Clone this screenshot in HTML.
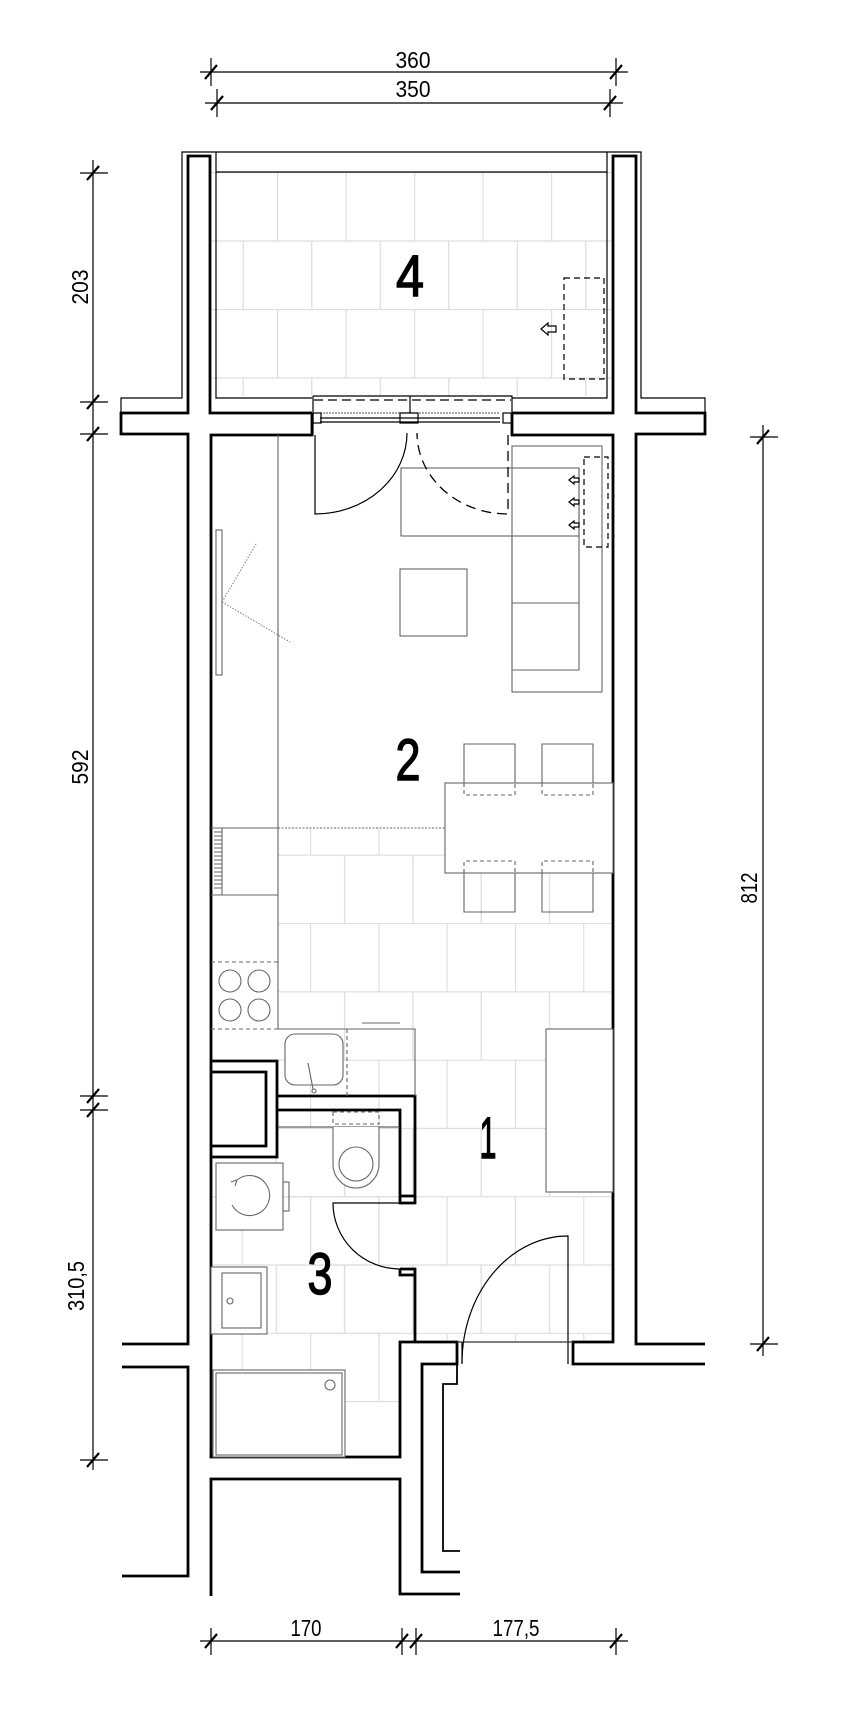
<!DOCTYPE html>
<html><head><meta charset="utf-8">
<style>
html,body{margin:0;padding:0;background:#fff;}
svg{display:block;}
text{font-family:"Liberation Sans",sans-serif;fill:#000;}
</style></head>
<body>
<svg width="868" height="1724" viewBox="0 0 868 1724" xmlns="http://www.w3.org/2000/svg">
<defs>
<pattern id="tileA" patternUnits="userSpaceOnUse" x="310" y="923" width="68.3" height="136.6">
<path d="M0,0.5H68.3M0,68.8H68.3M0.5,0V68.3M34.6,68.3V136.6" stroke="#dedede" stroke-width="1.3" fill="none"/>
</pattern>
<pattern id="tileB" patternUnits="userSpaceOnUse" x="277" y="172" width="68.5" height="137">
<path d="M0,0.5H68.5M0,69H68.5M0.5,0V68.5M34.75,68.5V137" stroke="#dedede" stroke-width="1.3" fill="none"/>
</pattern>
</defs>

<rect x="211" y="172" width="401" height="224" fill="url(#tileB)"/>
<rect x="278" y="828" width="335" height="514" fill="url(#tileA)"/>
<rect x="211" y="1157" width="189" height="300" fill="url(#tileA)"/>

<g fill="none" stroke="#000">
<g stroke-width="1.2">
<path d="M200,72H628M211,58V86M616,58V86"/>
<path d="M205,103H623M217,89V117M610,89V117"/>
<path d="M93,160V1470M80,173H108M80,402H108M80,434H108M80,1096H108M80,1110H108M80,1460H108"/>
<path d="M763,425V1356M750,437H778M750,1344H778"/>
<path d="M200,1641H628M211,1628V1655M402,1628V1655M416,1628V1655M616,1628V1655"/>
</g>
<g stroke-width="2.2">
<path d="M205,79L217,65M610,79L622,65"/>
<path d="M211,110L223,96M604,110L616,96"/>
<path d="M87,180L99,166M87,409L99,395M87,441L99,427M87,1103L99,1089M87,1117L99,1103M87,1467L99,1453"/>
<path d="M757,444L769,430M757,1351L769,1337"/>
<path d="M205,1648L217,1634M396,1648L408,1634M410,1648L422,1634M610,1648L622,1634"/>
</g>

<g stroke-width="1.2">
<path d="M121,413V398H182V152H641V398H705V413"/>
<path d="M216,152V398H312M512,398H607V152"/>
<path d="M216,172H607"/>
</g>

<g stroke-width="2.8" stroke-linejoin="miter">
<path d="M312,413H210V156H188V413H121V434H188V1344H122"/>
<path d="M122,1367H188V1576H122"/>
<path d="M312,413V435H211V1457H400V1342H457V1364H422V1572H460"/>
<path d="M211,1596V1479H400V1594H460"/>
<path d="M512,413H613V156H636V413H705V434H636V1344H705"/>
<path d="M512,413V435H613V1342H573V1364H705"/>
<path d="M278,1096H415V1196H400V1110H278"/>
<path d="M211,1061H277V1157H211"/>
<path d="M211,1072H266V1146H211"/>
<path d="M400,1196V1203H415V1196"/>
<path d="M400,1269H415V1342"/>
<path d="M400,1269V1275H415"/>
</g>
<g stroke-width="1.8">
<path d="M457,1364V1384H443V1551H460"/>
</g>
<path d="M278,1127H400" stroke-width="1" stroke="#444"/>

<g stroke-width="1.2">
<path d="M313,396H512V435M313,396V435"/>
<path d="M314,400H511" stroke-dasharray="9,5"/>
<path d="M320,413H500" stroke-dasharray="2,1" stroke="#777"/>
<path d="M320,418H500M320,422H500"/>
<path d="M410,396V413"/>
<rect x="313" y="413" width="8" height="10"/><rect x="400" y="413" width="18" height="10"/><rect x="503" y="413" width="9" height="10"/>
</g>

<g stroke="#666" stroke-width="1.1">
<path d="M278,435V1029"/>
<rect x="216" y="530" width="6" height="145" fill="#fff"/>
<path d="M222,602L256,544M222,602L290,642" stroke-dasharray="1.5,1.5" stroke="#888"/>
<path d="M278,828H445" stroke-dasharray="2,1.5"/>
<path d="M211,828H278M211,895H278"/>
<path d="M214,832H222M214,836H222M214,840H222M214,844H222M214,848H222M214,852H222M214,856H222M214,860H222M214,864H222M214,868H222M214,872H222M214,876H222M214,880H222M214,884H222M214,888H222M222,828V895"/>
<path d="M211,962H278M211,1029H278" stroke-dasharray="4,3"/>
<circle cx="230" cy="981" r="11"/><circle cx="259" cy="981" r="11"/><circle cx="230" cy="1010" r="11"/><circle cx="259" cy="1010" r="11"/>
<path d="M278,1029H415V1096"/>
<path d="M347,1029V1096" stroke-dasharray="4,3"/>
<rect x="285" y="1034" width="58" height="51" rx="10" fill="#fff"/>
<path d="M308,1063L313,1089"/><circle cx="314" cy="1091" r="2"/>
<path d="M362,1023H400"/>
<rect x="512" y="446" width="90" height="246" fill="#fff"/>
<rect x="401" y="468" width="178" height="68" fill="#fff"/>
<path d="M512,468V670H579V468M512,536H579M512,603H579"/>
<rect x="400" y="569" width="67" height="67" fill="#fff"/>
<path d="M464,783V744H515V783M542,783V744H593V783"/>
<rect x="445" y="783" width="168" height="90" fill="#fff"/>
<path d="M464,783V795H515V783M542,783V795H593V783" stroke-dasharray="4,3"/>
<path d="M464,873V861H515V873M542,873V861H593V873" stroke-dasharray="4,3"/>
<path d="M464,873V912H515V873M542,873V912H593V873"/>
<rect x="546" y="1029" width="67" height="163" fill="#fff"/>
<rect x="333" y="1112" width="46" height="12" stroke-dasharray="4,3"/>
<path d="M333,1127V1164A23,24 0 0 0 379,1164V1127" fill="#fff"/>
<circle cx="356" cy="1164" r="17"/>
<rect x="216" y="1163" width="67" height="67" fill="#fff"/>
<rect x="283" y="1182" width="6" height="29"/>
<path d="M237,1180A20,20 0 1 1 232,1205"/>
<path d="M237,1180L231,1182M237,1180L235,1186"/>
<rect x="211" y="1267" width="56" height="67" fill="#fff"/>
<rect x="222" y="1273" width="39" height="55"/>
<circle cx="230" cy="1301" r="3"/>
<rect x="213" y="1370" width="132" height="87" fill="#fff"/>
<rect x="216" y="1373" width="126" height="82"/>
<circle cx="330" cy="1385" r="5"/>
</g>

<!-- balcony doors (over furniture) -->
<path d="M315,435V514A92,81 0 0 0 407,433" stroke-width="1.2"/>
<path d="M508,435V514A91,81 0 0 1 417,433" stroke-width="1.3" stroke-dasharray="10,6"/>

<g stroke="#000" stroke-width="1.2">
<rect x="564" y="278" width="40" height="101" stroke-dasharray="6,4"/>
<rect x="584" y="457" width="24" height="90" stroke-dasharray="6,4"/>
<path d="M541,329L548,323V326H556V332H548V335Z"/>
<path d="M569,480L574,476V478H579V482H574V484Z"/>
<path d="M569,502L574,498V500H579V504H574V506Z"/>
<path d="M569,525L574,521V523H579V527H574V529Z"/>
</g>

<g stroke="#000" stroke-width="1.2">
<path d="M400,1203H333A67,66 0 0 0 400,1269"/>
<path d="M568,1364V1236A106,127 0 0 0 462,1363"/>
<path d="M457,1342H573" stroke="#333"/>
<path d="M462,1342V1364"/>
</g>
</g>

<g font-size="23">
<text x="413" y="68" text-anchor="middle" textLength="35" lengthAdjust="spacingAndGlyphs">360</text>
<text x="413" y="97" text-anchor="middle" textLength="35" lengthAdjust="spacingAndGlyphs">350</text>
<text x="306" y="1636" text-anchor="middle" textLength="31" lengthAdjust="spacingAndGlyphs">170</text>
<text x="516" y="1636" text-anchor="middle" textLength="47" lengthAdjust="spacingAndGlyphs">177,5</text>
<text transform="translate(88,287) rotate(-90)" text-anchor="middle" textLength="35" lengthAdjust="spacingAndGlyphs">203</text>
<text transform="translate(88,767) rotate(-90)" text-anchor="middle" textLength="35" lengthAdjust="spacingAndGlyphs">592</text>
<text transform="translate(84,1286) rotate(-90)" text-anchor="middle" textLength="50" lengthAdjust="spacingAndGlyphs">310,5</text>
<text transform="translate(757,888) rotate(-90)" text-anchor="middle" textLength="31" lengthAdjust="spacingAndGlyphs">812</text>
</g>
<g font-size="58" stroke="#000" stroke-width="1.4">
<text x="410" y="296" text-anchor="middle" textLength="28" lengthAdjust="spacingAndGlyphs">4</text>
<text x="408" y="780" text-anchor="middle" textLength="25" lengthAdjust="spacingAndGlyphs">2</text>
<text x="488" y="1158" text-anchor="middle" textLength="17" lengthAdjust="spacingAndGlyphs">1</text>
<text x="320" y="1294" text-anchor="middle" textLength="25" lengthAdjust="spacingAndGlyphs">3</text>
</g>
</svg>
</body></html>
